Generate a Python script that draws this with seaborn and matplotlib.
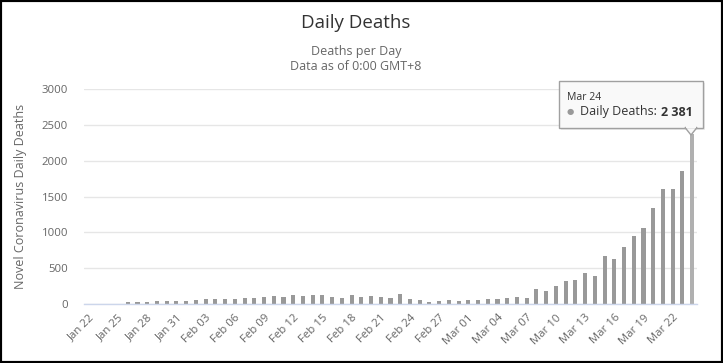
import numpy as np
import pandas as pd
import matplotlib
matplotlib.use("Agg")
import matplotlib.pyplot as plt
from matplotlib.patches import Rectangle, Polygon
import seaborn as sns

# datos: muertes diarias
fechas = pd.date_range("2020-01-22", "2020-03-24", freq="D")
etiquetas = [f.strftime("%b %d") for f in fechas]
muertes = [
    0, 0, 0, 0, 24, 26, 26, 38, 43, 46,                      # Jan 22-31
    45, 57, 64, 66, 73, 73, 86, 89, 97, 108,                 # Feb 01-10
    97, 126, 115, 128, 130, 104, 85, 128, 102, 115,          # Feb 11-20
    102, 84, 140, 70, 56, 28, 42, 56, 42,                    # Feb 21-29
    56, 56, 70, 70, 84, 102, 84, 214, 182, 251,              # Mar 01-10
    321, 335, 432, 391, 670, 628, 795, 949, 1060, 1339,      # Mar 11-20
    1604, 1604, 1855, 2381,                                  # Mar 21-24
]
yticks = [0, 500, 1000, 1500, 2000, 2500, 3000]

df = pd.DataFrame({"fecha": etiquetas, "muertes": muertes})

sns.set_theme(style="white")
plt.rcParams["font.family"] = ["Open Sans", "DejaVu Sans"]

W, H = 723, 363
fig = plt.figure(figsize=(W / 100, H / 100), dpi=100)

def fx(x):
    return x / W

def fy(y):
    return 1 - y / H

ax = fig.add_axes([fx(84), fy(304), (697 - 84) / W, (304 - 89.3) / H])

colores = ["#999999"] * (len(muertes) - 1) + ["#b0b0b0"]
sns.barplot(data=df, x="fecha", y="muertes", hue="fecha", palette=colores,
            legend=False, width=0.42, ax=ax, saturation=1, linewidth=0)

ax.set_xlim(-0.5, len(muertes) - 0.5)
ax.set_ylim(0, 3000)
ax.set_yticks(yticks)
ax.set_yticklabels([str(v) for v in yticks], fontsize=8.2, color="#666666")
ax.yaxis.grid(True, color="#e6e6e6", linewidth=1)
ax.set_axisbelow(True)
ax.tick_params(axis="y", length=0, pad=11.5)

pos = list(range(0, len(etiquetas), 3))
ax.set_xticks(pos)
ax.set_xticklabels([etiquetas[i] for i in pos], rotation=45, ha="right",
                   rotation_mode="anchor", fontsize=8.2, color="#666666")
ax.tick_params(axis="x", length=0, pad=6)

for s in ["top", "right", "left"]:
    ax.spines[s].set_visible(False)
ax.spines["bottom"].set_color("#ccd6eb")
ax.spines["bottom"].set_linewidth(1)

ax.set_xlabel("")
ax.set_ylabel("Novel Coronavirus Daily Deaths", fontsize=9, color="#666666")
ax.yaxis.set_label_coords(fx(27 - 84) / ((697 - 84) / W), 0.5)

# títulos
fig.text(fx(356), fy(28), "Daily Deaths", ha="center", va="baseline",
         fontsize=13.5, color="#333333")
fig.text(fx(356), fy(52), "Deaths per Day", ha="center", va="center",
         fontsize=9, color="#666666")
fig.text(fx(356), fy(67), "Data as of 0:00 GMT+8", ha="center", va="center",
         fontsize=9, color="#666666")

# tooltip
bx0, by0, bx1, by1 = 559, 81, 703, 128
fig.patches.append(Rectangle((fx(bx0 + 2), fy(by1 + 2)), (bx1 - bx0) / W, (by1 - by0) / H,
                             transform=fig.transFigure, facecolor="#000000", alpha=0.08,
                             edgecolor="none", zorder=5))
fig.patches.append(Rectangle((fx(bx0), fy(by1)), (bx1 - bx0) / W, (by1 - by0) / H,
                             transform=fig.transFigure, facecolor="#f9f9f9",
                             edgecolor="#a0a0a0", linewidth=1, zorder=6))
fig.patches.append(Polygon([(fx(685), fy(by1 - 0.5)), (fx(697), fy(by1 - 0.5)), (fx(691), fy(135))],
                           closed=True, transform=fig.transFigure, facecolor="#f9f9f9",
                           edgecolor="#a0a0a0", linewidth=1, zorder=6))
fig.patches.append(Rectangle((fx(685.8), fy(by1 - 0.2)), 10.4 / W, 2 / H,
                             transform=fig.transFigure, facecolor="#f9f9f9",
                             edgecolor="none", zorder=7))
fig.text(fx(567), fy(97), "Mar 24", ha="left", va="center", fontsize=7.5,
         color="#333333", zorder=8)
fig.text(fx(567), fy(112.5), "\u25CF", ha="left", va="center", fontsize=6,
         color="#999999", zorder=8)
fig.text(fx(580), fy(112), "Daily Deaths: ", ha="left", va="center", fontsize=9,
         color="#333333", zorder=8)
valor = f"{muertes[-1]:,}".replace(",", " ")
fig.text(fx(693), fy(112), valor, ha="right", va="center", fontsize=9,
         fontweight="bold", color="#333333", zorder=8)

# marco negro
fig.patches.append(Rectangle((0, 0), 1, 1, transform=fig.transFigure, fill=False,
                             edgecolor="black", linewidth=3, zorder=10))

plt.savefig("out.png", dpi=100)
plt.close()
